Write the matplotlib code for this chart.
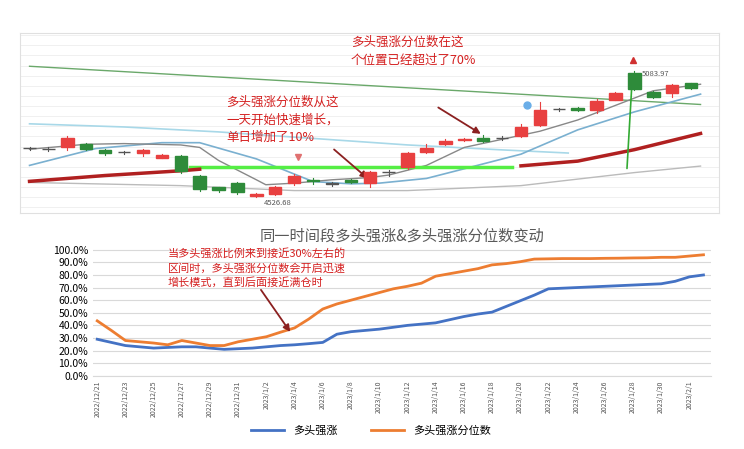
import numpy as np
import matplotlib.pyplot as plt
from matplotlib.patches import Rectangle
import datetime as dt

plt.rcParams['font.family'] = ['Noto Sans CJK SC', 'DejaVu Sans']

# ---------------- top: candles ----------------
opens = [4743, 4739, 4747, 4760, 4733, 4724, 4721, 4700, 4707, 4621, 4570, 4589,
         4530, 4539, 4589, 4603, 4585, 4600, 4589, 4635, 4657, 4724, 4762, 4778,
         4786, 4786, 4796, 4844, 4916, 4920, 4912, 4959, 5075, 4993, 4988, 5031]
closes = [4743, 4739, 4786, 4740, 4719, 4724, 4733, 4714, 4642, 4563, 4556, 4546,
          4540, 4570, 4621, 4596, 4585, 4592, 4635, 4635, 4721, 4743, 4776, 4785,
          4776, 4786, 4837, 4913, 4916, 4912, 4952, 4988, 5007, 4970, 5024, 5009]
highs = [4750, 4746, 4796, 4765, 4737, 4730, 4738, 4718, 4712, 4625, 4572, 4592,
         4545, 4575, 4627, 4610, 4590, 4606, 4642, 4645, 4725, 4760, 4782, 4788,
         4800, 4795, 4850, 4950, 4922, 4924, 4960, 4992, 5084, 4996, 5030, 5034]
lows = [4735, 4732, 4736, 4735, 4712, 4718, 4706, 4697, 4630, 4550, 4548, 4538,
        4526.68, 4533, 4580, 4585, 4575, 4588, 4570, 4620, 4650, 4720, 4758, 4776,
        4772, 4780, 4792, 4840, 4910, 4908, 4900, 4955, 5000, 4965, 4970, 5005]

trend_x, trend_y = [0, 35.5], [5107, 4937]
cyan_x = [0, 5, 10, 15, 20, 25, 28.5]
cyan_y = [4851, 4837, 4815, 4786, 4757, 4735, 4721]
red1_x, red1_y = [0, 4, 8, 9], [4595, 4621, 4642, 4649]
red2_x, red2_y = [26, 29, 32, 35.5], [4664, 4685, 4736, 4808]
lime_x, lime_y = [8.5, 25.5], [4661, 4661]
gray_x = [0, 3, 5, 8, 9, 10, 12, 12.5, 14, 16, 18, 19, 21, 23, 25, 27, 29, 31, 33, 35.5]
gray_y = [4738, 4760, 4763, 4757, 4746, 4688, 4602, 4580, 4587, 4602, 4612, 4623,
          4666, 4746, 4782, 4818, 4868, 4933, 4998, 5027]
blue_x = [0, 3.5, 7, 9, 12, 15, 17, 18.5, 21, 23, 26, 29, 32, 35.5]
blue_y = [4666, 4741, 4767, 4767, 4695, 4594, 4584, 4587, 4608, 4651, 4716, 4824, 4904, 4983]
lgray_x = [0, 8, 14, 20, 26, 32, 35.5]
lgray_y = [4590, 4576, 4554, 4554, 4576, 4634, 4663]

# ---------------- bottom: lines ----------------
start = dt.date(2022, 12, 21)
dates = [start + dt.timedelta(days=i) for i in range(44)]
date_labels = [f'{d.year}/{d.month}/{d.day}' for d in dates]
bull = [29, 26.5, 24, 23, 22, 22.5, 23, 23, 22, 21, 21.5, 22, 23, 24, 24.6, 25.5,
        26.5, 33, 35, 36, 37, 38.5, 40, 41, 42, 44.5, 47, 49, 50.5, 55, 59.5, 64,
        69, 69.5, 70, 70.5, 71, 71.5, 72, 72.5, 73, 75, 78.5, 80]
quant = [43.6, 36, 28, 27, 26, 24.6, 28, 26, 24, 24, 27, 29, 31, 34.6, 38, 45,
         53, 57, 60, 63, 66, 69, 71, 73.5, 79, 81, 83, 85, 88, 89, 90.5, 92.6,
         92.8, 93, 93, 93, 93.2, 93.3, 93.5, 93.6, 94, 94, 95, 96]

fig = plt.figure(figsize=(7.44, 4.49), dpi=100)

ax1 = fig.add_axes([0.027, 0.526, 0.94, 0.40])
ax1.set_facecolor('white')
for y in np.arange(4480, 5250, 45):
    ax1.axhline(y, color='#eeeeee', lw=0.6, zorder=0)
ax1.plot(trend_x, trend_y, color='#6aa86a', lw=1)
ax1.plot(cyan_x, cyan_y, color='#a8d8e8', lw=1.2)
ax1.plot(lgray_x, lgray_y, color='#bbbbbb', lw=1)
ax1.plot(blue_x, blue_y, color='#7ab0d0', lw=1.2)
ax1.plot(gray_x, gray_y, color='#888888', lw=1)
ax1.plot(lime_x, lime_y, color='#55ee44', lw=2.5)
ax1.plot(red1_x, red1_y, color='#b02020', lw=2.5)
ax1.plot(red2_x, red2_y, color='#b02020', lw=2.5)
for i, (o, c, h, l) in enumerate(zip(opens, closes, highs, lows)):
    col = '#e84040' if c > o else ('#2e8b3a' if c < o else '#555555')
    ax1.plot([i, i], [l, h], color=col, lw=0.8, zorder=3)
    body = max(abs(c - o), 2)
    ax1.add_patch(Rectangle((i - 0.33, min(o, c)), 0.66, body, color=col, zorder=4))
ax1.text(12.4, 4518, '4526.68', fontsize=5.5, color='#555555', va='top')
ax1.text(32.4, 5074, '5083.97', fontsize=5.5, color='#555555', va='center')
ax1.plot([31.9], [5135], marker='^', color='#d03030', ms=4)
ax1.plot([26.3], [4935], marker='o', color='#6aaee8', ms=5)
ax1.plot([14.2], [4703], marker='v', color='#e07070', ms=4)
ax1.annotate('', xy=(31.9, 5075), xytext=(31.6, 4640),
             arrowprops=dict(arrowstyle='-|>', color='#33aa33', lw=1.2))
ax1.text(10.4, 4868, '多头强涨分位数从这\n一天开始快速增长，\n单日增加了10%', color='#d42020',
         fontsize=9, va='center', linespacing=1.45)
ax1.annotate('', xy=(18.0, 4600), xytext=(16.0, 4745),
             arrowprops=dict(arrowstyle='-|>', color='#8b2020', lw=1.3))
ax1.text(17.0, 5175, '多头强涨分位数在这\n个位置已经超过了70%', color='#d42020',
         fontsize=9, va='center', linespacing=1.45)
ax1.annotate('', xy=(24, 4800), xytext=(21.5, 4930),
             arrowprops=dict(arrowstyle='-|>', color='#8b2020', lw=1.3))
ax1.set_xlim(-0.5, 36.5)
ax1.set_ylim(4455, 5254)
ax1.set_xticks([])
ax1.set_yticks([])
for s in ax1.spines.values():
    s.set_color('#e0e0e0')

ax2 = fig.add_axes([0.125, 0.163, 0.83, 0.292])
x = np.arange(len(dates))
ax2.plot(x, bull, color='#4472c4', lw=2, label='多头强涨')
ax2.plot(x, quant, color='#ed7d31', lw=2, label='多头强涨分位数')
ax2.set_ylim(0, 1.04 * 100)
ax2.set_yticks(np.arange(0, 101, 10))
ax2.set_yticklabels([f'{v:.1f}%' for v in np.arange(0, 101, 10)], fontsize=7.5)
ax2.set_xticks(x[::2])
ax2.set_xticklabels(date_labels[::2], rotation=90, fontsize=5, color='#555555')
ax2.set_xlim(-0.3, 43.5)
ax2.grid(axis='y', color='#d9d9d9', lw=0.8)
ax2.tick_params(length=0)
for s in ['top', 'right', 'left']:
    ax2.spines[s].set_visible(False)
ax2.spines['bottom'].set_color('#d9d9d9')
ax2.set_title('同一时间段多头强涨&多头强涨分位数变动', fontsize=11, color='#595959', pad=3)
ax2.text(5, 101, '当多头强涨比例来到接近30%左右的\n区间时，多头强涨分位数会开启迅速\n增长模式，直到后面接近满仓时',
         color='#d42020', fontsize=8, va='top', linespacing=1.4)
ax2.annotate('', xy=(13.8, 33), xytext=(11.5, 70),
             arrowprops=dict(arrowstyle='-|>', color='#8b2020', lw=1.3))
ax2.legend(loc='center', bbox_to_anchor=(0.45, -0.42), ncol=2, frameon=False,
           fontsize=8, handlelength=3, columnspacing=3)

fig.savefig('out.png', dpi=100, facecolor='white')
